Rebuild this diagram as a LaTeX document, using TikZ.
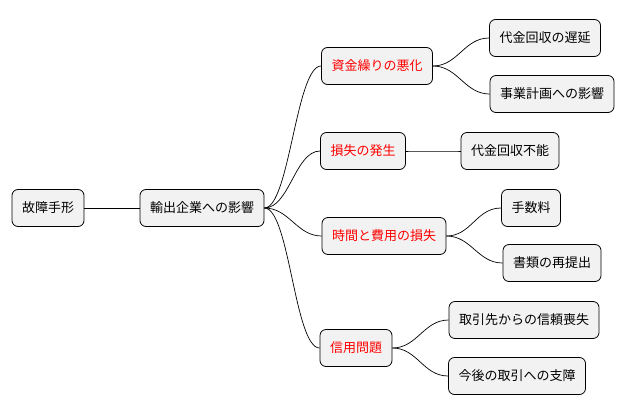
\documentclass[tikz,border=0pt]{standalone}
\usepackage{fontspec}
\newfontfamily\jp{Noto Sans CJK JP}
\begin{document}
\begin{tikzpicture}[x=1pt,y=-1pt,
  box/.style={draw=black,fill=black!5,rounded corners=6pt,minimum height=37pt,inner xsep=10pt,font=\jp\fontsize{13}{15}\selectfont,line width=0.8pt},
  red/.style={box,text=red},
  link/.style={draw=black,line width=0.7pt}]
\useasboundingbox (0,0) rectangle (628,415);
\node[box] (r) at (48,208) {故障手形};
\node[box] (e) at (202,208) {輸出企業への影響};
\node[red] (a) at (377,66) {資金繰りの悪化};
\node[red] (b) at (363,151) {損失の発生};
\node[red] (c) at (384,236) {時間と費用の損失};
\node[red] (d) at (356,348) {信用問題};
\node[box] (a1) at (545,38) {代金回収の遅延};
\node[box] (a2) at (552,94) {事業計画への影響};
\node[box] (b1) at (510,151) {代金回収不能};
\node[box] (c1) at (531,208) {手数料};
\node[box] (c2) at (552,263) {書類の再提出};
\node[box] (d1) at (524,320) {取引先からの信頼喪失};
\node[box] (d2) at (517,376) {今後の取引への支障};
\draw[link] (r.east) -- (e.west);
\foreach \p/\c in {e/a,e/b,e/c,e/d,a/a1,a/a2,b/b1,c/c1,c/c2,d/d1,d/d2}
  \draw[link] (\p.east) .. controls ([xshift=25pt]\p.east) and ([xshift=-25pt]\c.west) .. (\c.west);
\end{tikzpicture}
\end{document}
